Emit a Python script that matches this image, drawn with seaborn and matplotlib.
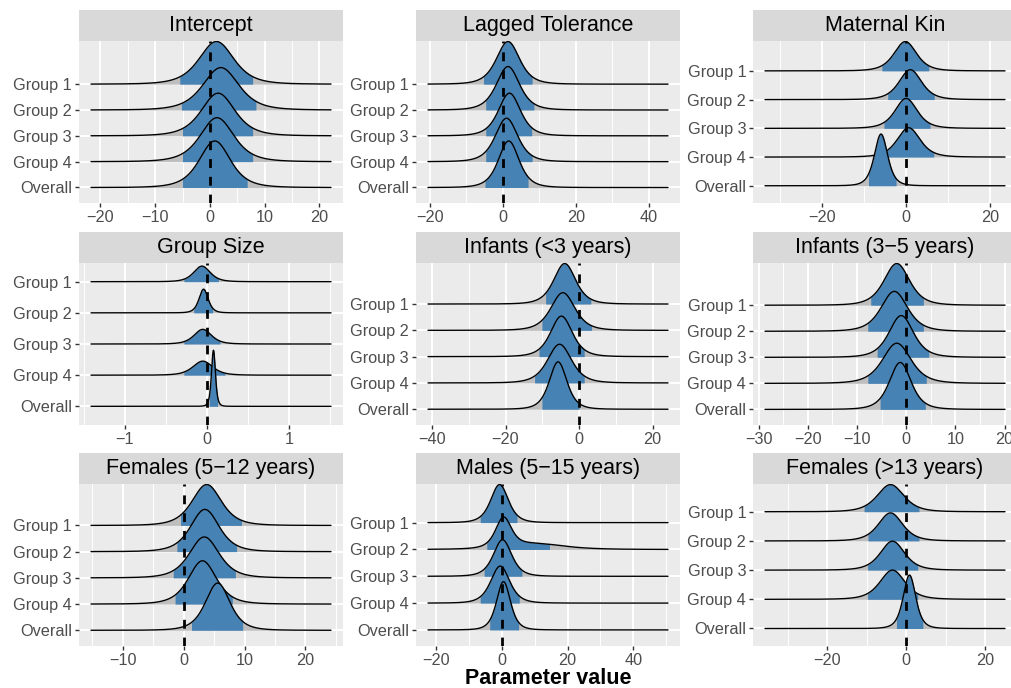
import numpy as np
import seaborn as sns
import matplotlib.pyplot as plt
from matplotlib.ticker import MultipleLocator
from matplotlib.patches import Rectangle

# ridgeline of posterior estimates, 9 facets, free scales

panels = ['Intercept', 'Lagged Tolerance', 'Maternal Kin',
          'Group Size', 'Infants (<3 years)', 'Infants (3−5 years)',
          'Females (5−12 years)', 'Males (5−15 years)', 'Females (>13 years)']
groups = ['Group 1', 'Group 2', 'Group 3', 'Group 4', 'Overall']

# mode of each posterior (Group 1, 2, 3, 4, Overall)
peak = [[1.2, 2.0, 1.5, 1.3, 0.9],
        [1.4, 1.4, 1.8, 1.0, 1.6],
        [-0.2, 1.0, 0.0, 0.6, -6.0],
        [-0.06, -0.04, -0.05, -0.05, 0.08],
        [-3.9, -4.4, -4.8, -5.3, -5.7],
        [-1.9, -2.4, -1.0, -1.9, -1.2],
        [3.8, 3.5, 3.4, 3.1, 5.6],
        [-0.7, 0.5, 0.2, -0.5, 0.5],
        [-4.0, -4.0, -3.5, -3.5, 0.8]]

# spread of each posterior
spread = [[3.3, 3.4, 3.2, 3.2, 2.95],
          [3.3, 3.3, 3.15, 3.2, 2.95],
          [2.8, 2.8, 2.75, 2.85, 1.65],
          [0.105, 0.058, 0.11, 0.125, 0.025],
          [3.1, 3.4, 3.1, 3.4, 2.5],
          [2.7, 2.8, 2.6, 3.0, 2.3],
          [2.5, 2.45, 2.55, 2.4, 2.1],
          [2.8, 2.5, 2.9, 3.0, 2.2],
          [3.5, 3.2, 3.2, 3.3, 1.65]]

# credible interval (blue band)
lo = [[-5.5, -5.2, -5.0, -5.0, -5.0],
      [-5.3, -4.7, -4.7, -4.7, -4.9],
      [-5.8, -4.4, -5.3, -5.0, -9.0],
      [-0.28, -0.16, -0.28, -0.28, 0.03],
      [-9.1, -10.1, -10.9, -12.1, -10.1],
      [-7.2, -7.8, -5.9, -7.8, -5.3],
      [-0.5, -1.1, -1.7, -1.4, 1.3],
      [-6.6, -4.6, -5.4, -6.6, -3.7],
      [-10.7, -9.7, -9.8, -9.8, -2.5]]
hi = [[7.8, 8.4, 7.8, 7.8, 6.8],
      [8.0, 8.5, 7.9, 8.0, 6.9],
      [5.4, 6.7, 5.7, 6.6, -2.4],
      [0.14, 0.07, 0.16, 0.22, 0.13],
      [3.2, 3.4, 1.4, 1.4, 0.0],
      [3.5, 3.5, 4.6, 4.1, 3.9],
      [9.5, 8.7, 8.5, 8.0, 9.7],
      [4.6, 14.5, 6.1, 5.3, 5.1],
      [3.2, 3.2, 2.9, 2.9, 4.2]]

# ridge height (in row units)
height = [[1.65, 1.64, 1.65, 1.70, 1.80],
          [1.65, 1.68, 1.65, 1.68, 1.80],
          [1.02, 1.04, 1.04, 1.02, 1.80],
          [0.50, 0.76, 0.47, 0.45, 1.80],
          [1.54, 1.43, 1.54, 1.47, 1.80],
          [1.60, 1.53, 1.60, 1.54, 1.80],
          [1.56, 1.61, 1.56, 1.65, 1.80],
          [1.42, 1.21, 1.36, 1.38, 1.80],
          [0.93, 0.96, 0.99, 1.00, 1.83]]

# extent of the sampled values in each panel
x_range = [(-21.7, 22.1), (-20.5, 45.2), (-33.7, 23.6),
           (-1.41, 1.51), (-41.1, 24.2), (-28.7, 20.1),
           (-15.2, 24.2), (-22.5, 50.6), (-35.8, 25.0)]

# long right tail: Males (5-15), Group 2 -> (location, spread, weight)
tail = {(7, 1): (10.0, 9.0, 0.2)}

tick_step = [10, 20, 20, 1, 20, 10, 10, 20, 20]

BLUE = '#4682B4'
GREY = '#BEBEBE'

sns.set_style('darkgrid', {'axes.facecolor': '#EBEBEB', 'grid.color': 'white'})
plt.rcParams['font.family'] = ['Liberation Sans', 'DejaVu Sans']

W, H = 1012, 688
fig = plt.figure(figsize=(W / 100, H / 100), dpi=100)

col_left = [79, 416, 753]
row_top = [41, 263, 484]
pw, ph = 264, 162
strip_h = 31


def ridge(x, m, s):
    return (1 + ((x - m) / s) ** 2 / 4) ** -2.5


for p, name in enumerate(panels):
    r, c = divmod(p, 3)
    ax = fig.add_axes([col_left[c] / W, (H - row_top[r] - ph) / H, pw / W, ph / H])

    xmin, xmax = x_range[p]
    x = np.linspace(xmin, xmax, 800)
    x = np.unique(np.concatenate([x, lo[p], hi[p]]))

    tops = []
    for g in range(5):
        base = 4 - g
        d = ridge(x, peak[p][g], spread[p][g])
        if (p, g) in tail:
            tm, ts, tw = tail[(p, g)]
            d = d + tw * ridge(x, tm, ts)
        d = d / d.max() * height[p][g]
        top = base + d
        tops.append(top.max())

        z = 3 + g
        ax.fill_between(x, base, top, color=GREY, lw=0, zorder=z)
        m = (x >= lo[p][g]) & (x <= hi[p][g])
        ax.fill_between(x[m], base, top[m], color=BLUE, lw=0, zorder=z)
        sns.lineplot(x=x, y=top, ax=ax, color='black', lw=1.0,
                     estimator=None, sort=False, zorder=z)

    ax.axvline(0, color='black', lw=2.0, dashes=(3.2, 3.2), zorder=20)

    pad = (xmax - xmin) * 0.05
    ax.set_xlim(xmin - pad, xmax + pad)
    ax.set_ylim(-0.6, max(4.6, max(tops) + 0.02))

    ax.xaxis.set_major_locator(MultipleLocator(tick_step[p]))
    ax.xaxis.set_minor_locator(MultipleLocator(tick_step[p] / 2))
    ax.set_yticks(range(5))
    ax.set_yticklabels(groups[::-1])

    ax.grid(which='major', color='white', lw=1.4)
    ax.grid(which='minor', axis='x', color='white', lw=0.7)
    ax.set_axisbelow(True)
    for sp in ax.spines.values():
        sp.set_visible(False)
    ax.tick_params(which='major', length=2.75, width=1.0, color='#333333',
                   labelcolor='#4D4D4D', labelsize=11.7, pad=2.2,
                   bottom=True, left=True)
    ax.tick_params(which='minor', length=0)
    ax.set_xlabel('')
    ax.set_ylabel('')

    # facet strip
    ax.add_patch(Rectangle((0, 1), 1, strip_h / ph, transform=ax.transAxes,
                           facecolor='#D9D9D9', edgecolor='none', clip_on=False))
    ax.text(0.5, 1 + strip_h / ph / 2, name, transform=ax.transAxes,
            ha='center', va='center', fontsize=15.5, color='black')

fig.text(548 / W, 1 - 679 / H, 'Parameter value', ha='center', va='center',
         fontsize=15.5, fontweight='bold', color='black')

fig.savefig('out.png', dpi=100)
